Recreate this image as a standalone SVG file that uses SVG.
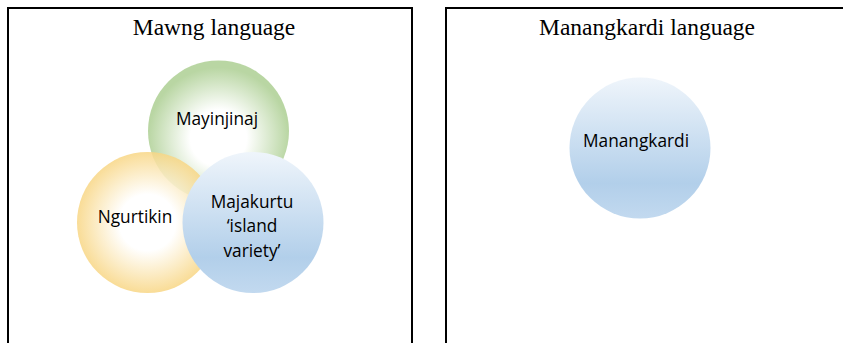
<svg xmlns="http://www.w3.org/2000/svg" width="843" height="343" viewBox="0 0 843 343">
<style>
.frame{fill:none;stroke:#000;stroke-width:2}
.title{font-family:"Liberation Serif","Times New Roman",serif;font-size:23.5px;fill:#000;text-anchor:middle}
.lbl{font-family:"Open Sans","Noto Sans",sans-serif;font-size:17.3px;fill:#000;text-anchor:middle}
</style>
<defs>
<radialGradient id="gGreen" cx="0.5" cy="0.55" r="0.5">
<stop offset="0.4" stop-color="#ffffff"/>
<stop offset="1" stop-color="#b9d6a3"/>
</radialGradient>
<radialGradient id="gYellow" cx="0.5" cy="0.5" r="0.5">
<stop offset="0.4" stop-color="#ffffff"/>
<stop offset="1" stop-color="#f8d684"/>
</radialGradient>
<linearGradient id="gBlue" x1="0" y1="0" x2="0" y2="1">
<stop offset="0" stop-color="#eff5fb"/>
<stop offset="0.75" stop-color="#b2cfea"/>
<stop offset="1" stop-color="#c2d9ef"/>
</linearGradient>
</defs>
<g id="mawng-frame">
<path class="frame" d="M8 344 V8 H412 V344"/>
<text class="title" x="214" y="35">Mawng language</text>
</g>
<g id="manangkardi-frame">
<path class="frame" d="M446 344 V8 H844"/>
<text class="title" x="647" y="35">Manangkardi language</text>
</g>
<g id="mayinjinaj">
<circle cx="218.5" cy="131" r="70.5" fill="url(#gGreen)"/>
<text class="lbl" x="217" y="125">Mayinjinaj</text>
</g>
<g id="ngurtikin">
<circle cx="147.5" cy="222.5" r="70.5" fill="url(#gYellow)" fill-opacity="0.85"/>
<text class="lbl" x="135" y="223">Ngurtikin</text>
</g>
<g id="majakurtu">
<circle cx="253" cy="222.5" r="70.5" fill="url(#gBlue)"/>
<text class="lbl" x="252" y="208">Majakurtu</text>
<text class="lbl" x="252" y="232">‘island</text>
<text class="lbl" x="252" y="257">variety’</text>
</g>
<g id="manangkardi">
<circle cx="640" cy="148" r="70.5" fill="url(#gBlue)"/>
<text class="lbl" x="636" y="147">Manangkardi</text>
</g>
<g id="connectors"/>
</svg>
